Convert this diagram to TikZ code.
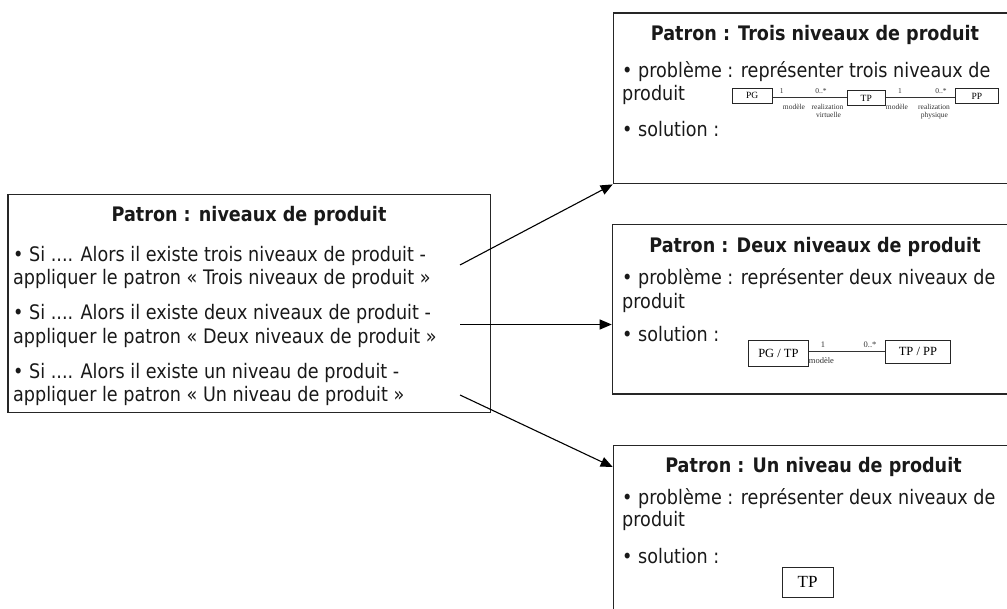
\documentclass[tikz,border=0pt]{standalone}
\usepackage{fontspec}
\setmainfont{DejaVu Sans}[FakeStretch=0.88]
\newfontfamily\umlfont{Liberation Serif}
\usetikzlibrary{arrows.meta,calc}

\begin{document}
\begin{tikzpicture}[x=1pt,y=-1pt,
  frame/.style={draw=black!85, line width=1.4pt, inner sep=0pt, anchor=north west},
  ttl/.style={font=\fontsize{20}{24}\selectfont\bfseries, anchor=base, inner sep=0pt, text=black!90},
  txt/.style={font=\fontsize{20}{24}\selectfont, anchor=base west, inner sep=0pt, text=black!90},
  cls/.style={draw=black!85, line width=0.8pt, inner sep=0pt, anchor=north west},
  role/.style={font=\umlfont\fontsize{7.5}{9}\selectfont, inner sep=0pt, anchor=base, text=black!80},
  link/.style={draw=black, line width=1.1pt, -{Triangle[length=12pt,width=10pt]}},
  assoc/.style={draw=black!80, line width=0.9pt},
]
\useasboundingbox (0,0) rectangle (1007,609);
\clip (0,0) rectangle (1007,609);

% ---------- rule pattern (left) ----------
\node[frame, minimum width=482.7pt, minimum height=218pt] (lbox) at (7.3,194) {};
\node[ttl] (ltitle) at (249,221.7) {Patron : niveaux de produit};
\node[txt] (l1a) at (13,261.7) {• Si .... Alors il existe trois niveaux de produit -};
\node[txt] (l1b) at (13,284.3) {appliquer le patron « Trois niveaux de produit »};
\node[txt] (l2a) at (13,320) {• Si .... Alors il existe deux niveaux de produit -};
\node[txt] (l2b) at (13,343.3) {appliquer le patron « Deux niveaux de produit »};
\node[txt] (l3a) at (13,378.3) {• Si .... Alors il existe un niveau de produit -};
\node[txt] (l3b) at (13,401.7) {appliquer le patron « Un niveau de produit »};

% ---------- three levels ----------
\node[frame, minimum width=405.3pt, minimum height=170.7pt] (tbox) at (612.7,12.3) {};
\node[ttl] (ttitle) at (815,41) {Patron : Trois niveaux de produit};
\node[txt] (t1) at (622,78) {• problème : représenter trois niveaux de};
\node[txt] (t2) at (622,100.5) {produit};
\node[txt] (t3) at (622,136.7) {• solution :};

\begin{scope}[every node/.append style={font=\umlfont\fontsize{9.5}{11}\selectfont}]
\node[cls, minimum width=40pt, minimum height=15.6pt] (pg) at (731.7,87.7) {PG};
\node[cls, minimum width=38.3pt, minimum height=15pt] (tp) at (846.7,90) {TP};
\node[cls, minimum width=43pt, minimum height=15.6pt] (pp) at (955,87.7) {PP};
\end{scope}
\draw[assoc] (tp.west -| pg.east) -- (tp.west);
\draw[assoc] (tp.east) -- (tp.east -| pp.west);
\node[role] (m1) at (781.7,93.5) {1};
\node[role] (c1) at (821,93.5) {0..*};
\node[role] (r1) at (794,109.5) {modèle};
\node[role] (v1) at (827.5,109.5) {realization};
\node[role] (v2) at (828.5,117.5) {virtuelle};
\node[role] (m2) at (900,93.5) {1};
\node[role] (c2) at (941,93.5) {0..*};
\node[role] (r2) at (897,109.5) {modèle};
\node[role] (p1) at (934,109.5) {realization};
\node[role] (p2) at (934.5,117.5) {physique};

% ---------- two levels ----------
\node[frame, minimum width=406.3pt, minimum height=169.3pt] (mbox) at (611.7,224) {};
\node[ttl] (mtitle) at (815,252.7) {Patron : Deux niveaux de produit};
\node[txt] (s1) at (622,285) {• problème : représenter deux niveaux de};
\node[txt] (s2) at (622,308.5) {produit};
\node[txt] (s3) at (622,342) {• solution :};

\begin{scope}[every node/.append style={font=\umlfont\fontsize{12.5}{14}\selectfont}]
\node[cls, minimum width=60pt, minimum height=26pt] (pgtp) at (748,340) {PG / TP};
\node[cls, minimum width=65pt, minimum height=23pt] (tppp) at (885,340) {TP / PP};
\end{scope}
\draw[assoc] (tppp.west -| pgtp.east) -- (tppp.west);
\node[role, font=\umlfont\fontsize{8.5}{10}\selectfont] (m3) at (823,347.5) {1};
\node[role, font=\umlfont\fontsize{8.5}{10}\selectfont] (c3) at (870,347.5) {0..*};
\node[role, font=\umlfont\fontsize{8.5}{10}\selectfont] (r3) at (821.5,364) {modèle};

% ---------- one level ----------
\node[frame, minimum width=405.3pt, minimum height=170pt] (bbox) at (612.7,445) {};
\node[ttl] (btitle) at (813.5,472.3) {Patron : Un niveau de produit};
\node[txt] (u1) at (622,504) {• problème : représenter deux niveaux de};
\node[txt] (u2) at (622,526.5) {produit};
\node[txt] (u3) at (622,563) {• solution :};
\node[cls, minimum width=51pt, minimum height=30.6pt, font=\umlfont\fontsize{17}{20}\selectfont] (tpone) at (781.7,566.7) {TP};

% ---------- connectors ----------
\coordinate (a1) at (460,265);
\coordinate (a2) at (460,324.5);
\coordinate (a3) at (460,395);
\coordinate (e3) at ($(bbox.north west)+(0,22)$);
\draw[link] (a1) -- (tbox.south west);
\draw[link] (a2) -- (a2 -| mbox.west);
\draw[link] (a3) -- (e3);
\end{tikzpicture}
\end{document}
